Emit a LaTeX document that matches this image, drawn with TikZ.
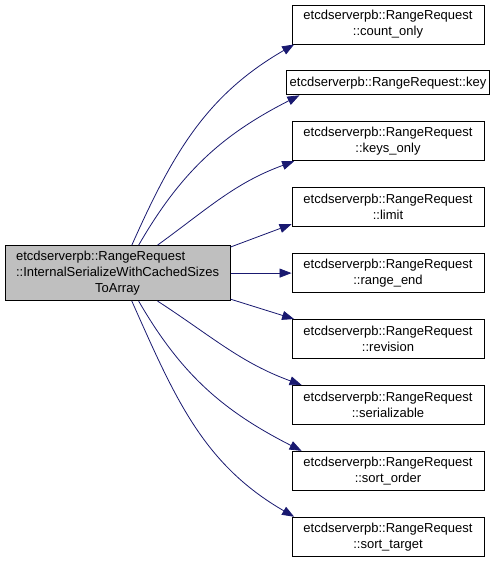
\documentclass[tikz,border=0pt]{standalone}
\usepackage{fontspec}
\setmainfont{Liberation Sans}
\usepackage{tikz}
\usetikzlibrary{arrows.meta, positioning}
\definecolor{edgeblue}{HTML}{191970}
\definecolor{mainfill}{HTML}{BFBFBF}

\begin{document}
\begin{tikzpicture}[
    x=1pt, y=1pt,
    node distance=26pt and 61pt,
    box/.style={draw, align=center, minimum height=39pt, minimum width=192pt,
                inner xsep=3pt, font=\fontsize{13}{16}\selectfont, line width=0.9pt},
    arr/.style={-{Triangle[length=12pt, width=9pt]}, edgeblue, line width=0.8pt}
  ]
  \useasboundingbox (0,0) rectangle (503,-561);
  \node[box] (count) at (388,-24.5) {etcdserverpb::RangeRequest\\::count\_only};
  \node[box, below=of count, minimum height=24pt, minimum width=0pt] (key) {etcdserverpb::RangeRequest::key};
  \node[box, below=of key] (keys) {etcdserverpb::RangeRequest\\::keys\_only};
  \node[box, below=of keys] (limit) {etcdserverpb::RangeRequest\\::limit};
  \node[box, below=of limit] (rangeend) {etcdserverpb::RangeRequest\\::range\_end};
  \node[box, below=of rangeend] (revision) {etcdserverpb::RangeRequest\\::revision};
  \node[box, below=of revision] (serial) {etcdserverpb::RangeRequest\\::serializable};
  \node[box, below=of serial] (sortorder) {etcdserverpb::RangeRequest\\::sort\_order};
  \node[box, below=of sortorder] (sorttarget) {etcdserverpb::RangeRequest\\::sort\_target};
  \node[box, fill=mainfill, minimum height=55pt, minimum width=0pt, inner xsep=11pt,
        left=of rangeend] (main)
    {\begin{tabular}{@{}l@{}}etcdserverpb::RangeRequest\\
       ::InternalSerializeWithCachedSizes\\
       \multicolumn{1}{@{}c@{}}{ToArray}\end{tabular}};

  \draw[arr] (main.63) to[out=66, in=210] (count.192);
  \draw[arr] (main.53) to[out=60, in=207] (key.188);
  \draw[arr] (main.35) to[out=36, in=200] (keys.192);
  \draw[arr] (main.13) -- (limit.190);
  \draw[arr] (main.east) -- (rangeend.west);
  \draw[arr] (main.-13) -- (revision.168);
  \draw[arr] (main.-35) to[out=-33, in=160] (serial.167);
  \draw[arr] (main.-53) to[out=-60, in=153] (sortorder.167);
  \draw[arr] (main.-63) to[out=-66, in=150] (sorttarget.168);
\end{tikzpicture}
\end{document}
